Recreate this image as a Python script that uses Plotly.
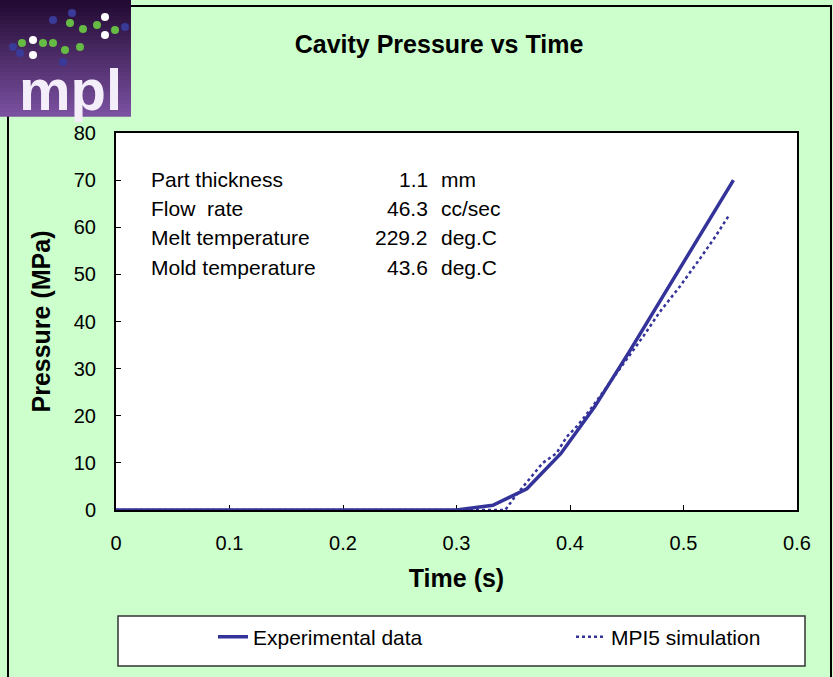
import plotly.graph_objects as go

# ---- data ----
exp_time = [0, 0.3, 0.332, 0.362, 0.392, 0.422, 0.452, 0.482, 0.512, 0.544]
exp_pressure = [0, 0, 1, 4.5, 12, 22, 33.5, 45.5, 57.5, 70]

sim_time = [0, 0.343, 0.352, 0.364, 0.376, 0.388, 0.397, 0.407, 0.42, 0.435,
            0.45, 0.465, 0.479, 0.497, 0.515, 0.528, 0.54]
sim_pressure = [0, 0, 3, 6.5, 10, 12, 15.5, 18, 22, 27,
                32, 37, 42, 47.5, 53.5, 58, 62.5]

param_labels = ["Part thickness", "Flow  rate", "Melt temperature", "Mold temperature"]
param_values = ["1.1", "46.3", "229.2", "43.6"]
param_units = ["mm", "cc/sec", "deg.C", "deg.C"]

x_ticks = [0, 0.1, 0.2, 0.3, 0.4, 0.5, 0.6]
x_ticklabels = ["0", "0.1", "0.2", "0.3", "0.4", "0.5", "0.6"]
y_ticks = [0, 10, 20, 30, 40, 50, 60, 70, 80]

# ---- layout geometry (pixels) ----
W, H = 833, 677
L, R, T, B = 116, 797, 133, 510
FONT = "Liberation Sans, Arial, sans-serif"
BLUE = "#333399"


def px(x):
    return (x - L) / (R - L)


def py(y):
    return (B - y) / (B - T)


fig = go.Figure()
fig.add_trace(go.Scatter(x=exp_time, y=exp_pressure, mode="lines",
                         name="Experimental data", legend="legend",
                         line=dict(color=BLUE, width=3.5), cliponaxis=False))
fig.add_trace(go.Scatter(x=sim_time, y=sim_pressure, mode="lines",
                         name="MPI5 simulation", legend="legend2",
                         line=dict(color=BLUE, width=2.5, dash="dot"), cliponaxis=False))

shapes = []
# outer frame lines
shapes.append(dict(type="line", xref="paper", yref="paper", x0=px(8), x1=px(8), y0=py(0), y1=py(H + 5),
                   line=dict(color="black", width=2)))
shapes.append(dict(type="line", xref="paper", yref="paper", x0=px(831), x1=px(831), y0=py(5), y1=py(H + 5),
                   line=dict(color="black", width=2)))
shapes.append(dict(type="line", xref="paper", yref="paper", x0=px(8), x1=px(831), y0=py(6), y1=py(6),
                   line=dict(color="black", width=2)))
# legend box
shapes.append(dict(type="rect", xref="paper", yref="paper", x0=px(118), x1=px(805), y0=py(616), y1=py(666),
                   fillcolor="white", line=dict(color="#333333", width=1.5), layer="below"))
# logo background (stacked bands for a smooth purple gradient)
c_top = (34, 10, 50)
c_bot = (122, 80, 160)
nb = 29
for i in range(nb):
    f = i / (nb - 1)
    col = "rgb(%d,%d,%d)" % tuple(round(a + (b - a) * f) for a, b in zip(c_top, c_bot))
    y0 = i * 116 / nb
    y1 = (i + 1) * 116 / nb
    shapes.append(dict(type="rect", xref="paper", yref="paper", x0=px(0), x1=px(131),
                       y0=py(y0), y1=py(y1 + 0.8), fillcolor=col, line=dict(width=0), layer="above"))
# logo molecule dots
dots = [(22, 43, "#66bb44"), (43, 43, "#66bb44"), (53, 43, "#66bb44"), (70, 23, "#66bb44"),
        (83, 29, "#66bb44"), (65, 50, "#66bb44"), (80, 47, "#66bb44"), (97, 25, "#66bb44"),
        (115, 30, "#66bb44"), (13, 47, "#3a3a99"), (20, 53, "#3a3a99"), (72, 13, "#3a3a99"),
        (53, 20, "#3a3a99"), (125, 27, "#3a3a99"), (63, 62, "#3a3a99"),
        (33, 40, "white"), (33, 55, "white"), (105, 17, "white"), (105, 35, "white")]
for (cx, cy, c) in dots:
    shapes.append(dict(type="circle", xref="paper", yref="paper", x0=px(cx - 4), x1=px(cx + 4),
                       y0=py(cy - 4), y1=py(cy + 4), fillcolor=c, line=dict(width=0), layer="above"))

annotations = []
annotations.append(dict(text="<b>mpl</b>", xref="paper", yref="paper", x=px(70), y=py(89),
                        showarrow=False, font=dict(family=FONT, size=58, color="#f4eefa"),
                        xanchor="center", yanchor="middle"))
row_y = [179, 208, 237, 267]
for lab, val, unit, yy in zip(param_labels, param_values, param_units, row_y):
    annotations.append(dict(text=lab, xref="paper", yref="paper", x=px(149), y=py(yy), showarrow=False,
                            xanchor="left", yanchor="middle", font=dict(family=FONT, size=21, color="black")))
    annotations.append(dict(text=val, xref="paper", yref="paper", x=px(430), y=py(yy), showarrow=False,
                            xanchor="right", yanchor="middle", font=dict(family=FONT, size=21, color="black")))
    annotations.append(dict(text=unit, xref="paper", yref="paper", x=px(439), y=py(yy), showarrow=False,
                            xanchor="left", yanchor="middle", font=dict(family=FONT, size=21, color="black")))

legend_common = dict(orientation="h", yanchor="middle", xanchor="left",
                     bgcolor="rgba(0,0,0,0)", borderwidth=0,
                     font=dict(family=FONT, size=21, color="black"))

fig.update_layout(
    width=W, height=H,
    margin=dict(l=L, r=W - R, t=T, b=H - B, autoexpand=False),
    paper_bgcolor="#CCFFCC", plot_bgcolor="white",
    font=dict(family=FONT, size=20, color="black"),
    title=dict(text="<b>Cavity Pressure vs Time</b>", x=439 / W, xanchor="center",
               y=1 - 44 / H, yanchor="middle", font=dict(family=FONT, size=25, color="black")),
    xaxis=dict(range=[0, 0.6], tickvals=x_ticks, ticktext=x_ticklabels, ticks="inside", ticklen=5,
               tickcolor="black", showgrid=False, zeroline=False, showline=True, linecolor="black",
               linewidth=2, mirror=True, layer="below traces", ticklabelstandoff=14,
               title=dict(text="<b>Time (s)</b>", font=dict(family=FONT, size=25), standoff=16),
               tickfont=dict(family=FONT, size=20)),
    yaxis=dict(range=[0, 80], tickvals=y_ticks, ticks="inside", ticklen=5, tickcolor="black",
               showgrid=False, zeroline=False, showline=True, linecolor="black", linewidth=2,
               mirror=True, layer="below traces", ticklabelstandoff=14,
               title=dict(text="<b>Pressure (MPa)</b>", font=dict(family=FONT, size=25), standoff=16),
               tickfont=dict(family=FONT, size=20)),
    showlegend=True,
    legend=dict(x=px(213), y=py(637), **legend_common),
    legend2=dict(x=px(571), y=py(637), **legend_common),
    shapes=shapes, annotations=annotations,
)

fig.write_html("out.html")
